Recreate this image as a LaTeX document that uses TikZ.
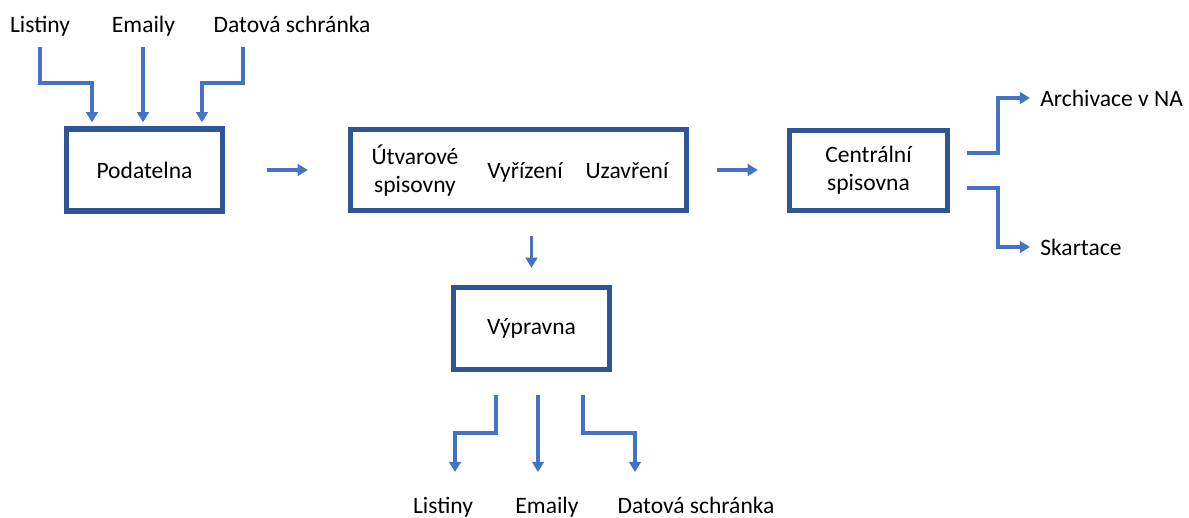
\documentclass[tikz,border=0pt]{standalone}
\usepackage{fontspec}
\setmainfont{Carlito}
\usetikzlibrary{arrows.meta,positioning}

\definecolor{boxblue}{HTML}{2F5597}
\definecolor{arrblue}{HTML}{4472C4}

\tikzset{
  box/.style={draw=boxblue, line width=3pt, minimum width=3.12cm, minimum height=1.64cm, inner sep=0pt, align=center},
  lbl/.style={inner sep=0pt, align=center},
  arr/.style={->, draw=arrblue, line width=2pt},
}

\begin{document}
\begin{tikzpicture}[x=0.02cm, y=-0.02cm, >={Triangle[length=5.8pt,width=6.6pt]}, font=\fontsize{13.4}{16}\selectfont]
	\useasboundingbox (0,0) rectangle (1189,517);

	% boxes
	\node[box] (pod) at (144.5,170) {Podatelna};
	\node[box, minimum width=6.72cm, minimum height=1.62cm] (utv) at (518.5,170) {};
	\node[box, minimum width=3.16cm, minimum height=1.6cm] (cen) at (868.5,170.5) {Centrální\\spisovna};
	\node[box] (vyp) at (531.5,328.5) {Výpravna};

	% texts inside the wide box
	\node[lbl] (utvA) at (415,171) {Útvarové\\spisovny};
	\node[lbl, anchor=base] (utvB) at (525,178) {Vyřízení};
	\node[lbl, anchor=base] (utvC) at (627,178) {Uzavření};

	% inputs on top
	\node[lbl, anchor=base] (inL) at (40,33) {Listiny};
	\node[lbl, anchor=base] (inE) at (143.5,33) {Emaily};
	\node[lbl, anchor=base] (inD) at (292,33) {Datová schránka};
	\coordinate (in1) at (40,47);
	\coordinate (in2) at (143,47);
	\coordinate (in3) at (243,47);
	\draw[arr, shorten >=2.3pt] (in1) -- ++(0,36) -| ([xshift=-1.05cm]pod.north);
	\draw[arr, shorten >=2.3pt] (in2) -- (in2 |- pod.north);
	\draw[arr, shorten >=2.3pt] (in3) -- ++(0,36) -| ([xshift=1.15cm]pod.north);

	% main flow
	\draw[arr, shorten <=23.9pt, shorten >=22.8pt] (pod.east) -- (pod.east -| utv.west);
	\draw[arr, shorten <=15.9pt, shorten >=16.5pt] (utv.east) -- (utv.east -| cen.west);
	\draw[arr, shorten <=13.1pt, shorten >=9.7pt] (utv.south -| vyp.north) -- (vyp.north);

	% outputs of the central archive
	\node[lbl, anchor=west] (arch) at (1040,98) {Archivace v NA};
	\node[lbl, anchor=west] (skart) at (1040,247) {Skartace};
	\coordinate (c1) at (967,153);
	\coordinate (c2) at (967,188);
	\draw[arr, shorten >=5.7pt] (c1) -- ++(31,0) |- (arch.west);
	\draw[arr, shorten >=5.7pt] (c2) -- ++(31,0) |- (skart.west);

	% outputs on the bottom
	\node[lbl, anchor=base] (outL) at (443,513) {Listiny};
	\node[lbl, anchor=base] (outE) at (547,513) {Emaily};
	\node[lbl, anchor=base] (outD) at (696,513) {Datová schránka};
	\coordinate (out1) at (496,395);
	\coordinate (out2) at (538,395);
	\coordinate (out3) at (583,395);
	\coordinate (e1) at (455,472);
	\coordinate (e2) at (538,472);
	\coordinate (e3) at (635,472);
	\draw[arr] (out1) -- ++(0,38) -| (e1);
	\draw[arr] (out2) -- (e2);
	\draw[arr] (out3) -- ++(0,38) -| (e3);

\end{tikzpicture}
\end{document}
